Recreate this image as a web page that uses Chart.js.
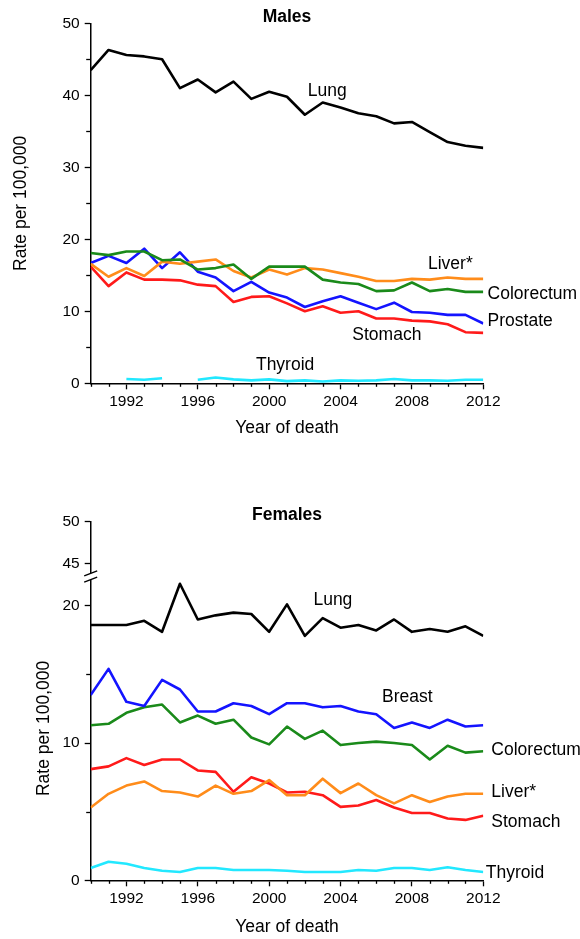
<!DOCTYPE html>
<html><head><meta charset="utf-8">
<script src="https://cdn.jsdelivr.net/npm/chart.js@4.4.1/dist/chart.umd.min.js"></script>
<style>
html,body{margin:0;padding:0;background:#fff;}
#wrap{position:relative;width:580px;height:939px;overflow:hidden;}
.box{position:absolute;left:0;width:580px;}
</style></head><body>
<div id="wrap">
<div class="box" style="top:0;height:460px"><canvas id="cm" width="580" height="460"></canvas></div>
<div class="box" style="top:460px;height:479px"><canvas id="cf" width="580" height="479"></canvas></div>
</div>
<script>
// ---------- data ----------
const years = [1990,1991,1992,1993,1994,1995,1996,1997,1998,1999,2000,2001,2002,2003,2004,2005,2006,2007,2008,2009,2010,2011,2012];
const xTickLabels = [1992,1996,2000,2004,2008,2012];

// Males
const maleLung       = [43.5,46.3,45.6,45.4,45.0,41.0,42.2,40.4,41.9,39.5,40.5,39.8,37.3,39.0,38.3,37.5,37.1,36.1,36.3,34.9,33.5,33.0,32.7];
const maleColorectum = [18.1,17.8,18.3,18.3,17.1,17.2,15.8,16.0,16.5,14.5,16.2,16.2,16.2,14.4,14.0,13.8,12.8,12.9,14.0,12.8,13.1,12.7,12.7];
const maleProstate   = [16.7,17.7,16.7,18.7,16.0,18.2,15.5,14.7,12.8,14.1,12.6,11.9,10.6,11.4,12.1,11.2,10.3,11.2,9.9,9.8,9.5,9.5,8.3];
const maleLiver      = [16.6,14.8,16.0,14.9,16.9,16.6,16.9,17.2,15.6,14.7,15.8,15.1,16.0,15.8,15.3,14.8,14.2,14.2,14.5,14.4,14.7,14.5,14.5];
const maleStomach    = [16.2,13.5,15.4,14.4,14.4,14.3,13.7,13.5,11.3,12.0,12.1,11.1,10.0,10.7,9.8,10.0,9.0,9.0,8.7,8.6,8.2,7.1,7.0];
const maleThyroid    = [null,null,0.6,0.5,0.7,null,0.5,0.8,0.55,0.4,0.55,0.3,0.4,0.25,0.4,0.35,0.4,0.6,0.4,0.4,0.35,0.5,0.5];
const maleYTicks  = [0,5,10,15,20,25,30,35,40,45,50];
const maleYLabels = [0,10,20,30,40,50];

// Females
const femLung       = [18.6,18.6,18.6,18.9,18.1,21.6,19.0,19.3,19.5,19.4,18.1,20.1,17.8,19.1,18.4,18.6,18.2,19.0,18.1,18.3,18.1,18.5,17.8];
const femBreast     = [13.5,15.4,13.0,12.7,14.6,13.9,12.3,12.3,12.9,12.7,12.1,12.9,12.9,12.6,12.7,12.3,12.1,11.1,11.5,11.1,11.7,11.2,11.3];
const femColorectum = [11.3,11.4,12.2,12.6,12.8,11.5,12.0,11.4,11.7,10.4,9.9,11.2,10.3,10.9,9.85,10.0,10.1,10.0,9.85,8.8,9.8,9.3,9.4];
const femLiver      = [5.3,6.3,6.9,7.2,6.5,6.4,6.1,6.9,6.3,6.5,7.3,6.2,6.2,7.4,6.35,7.05,6.2,5.6,6.2,5.7,6.1,6.3,6.3];
const femStomach    = [8.1,8.3,8.9,8.4,8.8,8.8,8.0,7.9,6.45,7.5,7.05,6.4,6.45,6.2,5.35,5.45,5.85,5.3,4.9,4.9,4.5,4.4,4.7];
const femThyroid    = [0.9,1.35,1.2,0.9,0.7,0.6,0.9,0.9,0.75,0.75,0.75,0.7,0.6,0.6,0.6,0.75,0.7,0.9,0.9,0.75,0.95,0.75,0.6];
const femYTicksLow   = [0,5,10,15,20];
const femYLabelsLow  = [0,10,20];
const femYTicksHigh  = [45,50];

// ---------- styling ----------
const FONT = "'Liberation Sans', Arial, Helvetica, sans-serif";
const C = {black:'#000000', blue:'#1414ff', green:'#1a8a1a', red:'#ff1a1a', orange:'#ff8c1a', cyan:'#22e8ff'};
Chart.defaults.font.family = FONT;
Chart.defaults.color = '#000';

function series(vals, color, label){
  return {label: label, data: years.map((y,i)=>({x:y, y:vals[i]})), borderColor: color, backgroundColor: color,
          borderWidth: 2.6, pointRadius: 0, tension: 0, fill: false, spanGaps: false,
          borderJoinStyle: 'round', yAxisID: 'y'};
}

// major ticks drawn by Chart.js; unlabeled (minor) ticks are hidden there and drawn shorter by a plugin
function tickGrid(labeledFn){
  return {display:true, drawOnChartArea:false, drawTicks:true, tickLength:6, tickWidth:1.3,
          tickColor: ctx => (ctx.tick && labeledFn(ctx.tick.value)) ? '#000' : 'rgba(0,0,0,0)'};
}
const minorTickPlugin = {id:'minorTicks', afterDraw(chart){
  const ctx = chart.ctx;
  ctx.save(); ctx.strokeStyle = '#000'; ctx.lineWidth = 1.3;
  Object.values(chart.scales).forEach(s => {
    const minors = s.options.minorValues || [];
    minors.forEach(v => {
      const p = Math.round(s.getPixelForValue(v)) + 0.5;
      ctx.beginPath();
      if (s.isHorizontal()) { ctx.moveTo(p, s.top); ctx.lineTo(p, s.top + 3.5); }
      else { ctx.moveTo(s.right, p); ctx.lineTo(s.right - 4.5, p); }
      ctx.stroke();
    });
  });
  ctx.restore();
}};

function xScale(height, titlePadBottom){
  return {
    type: 'linear', min: 1990, max: 2012,
    minorValues: years.filter(v => !xTickLabels.includes(v)),
    afterBuildTicks: s => { s.ticks = years.map(v => ({value: v})); },
    afterFit: s => { s.height = height; },
    ticks: {autoSkip:false, maxRotation:0, padding:3, color:'#000', font:{size:15.5},
            callback: v => xTickLabels.includes(v) ? String(v) : ''},
    grid: tickGrid(v => xTickLabels.includes(v)),
    border: {display:true, color:'#000', width:1.5},
    title: {display:true, text:'Year of death', color:'#000', font:{size:17.5}, padding:{top:0, bottom:titlePadBottom}}
  };
}

function labelPlugin(items){
  return {id:'seriesLabels', afterDatasetsDraw(chart){
    const ctx = chart.ctx, xs = chart.scales.x;
    ctx.save();
    ctx.font = '17.5px ' + FONT;
    ctx.fillStyle = '#000';
    ctx.textAlign = 'left';
    ctx.textBaseline = 'middle';
    items.forEach(it => {
      const ys = chart.scales[it.axis || 'y'];
      ctx.fillText(it.text, xs.getPixelForValue(it.x), ys.getPixelForValue(it.y));
    });
    ctx.restore();
  }};
}

// ---------- Males ----------
new Chart(document.getElementById('cm'), {
  type: 'line',
  data: {datasets: [
    series(maleLung, C.black, 'Lung'),
    series(maleColorectum, C.green, 'Colorectum'),
    series(maleLiver, C.orange, 'Liver*'),
    series(maleProstate, C.blue, 'Prostate'),
    series(maleStomach, C.red, 'Stomach'),
    series(maleThyroid, C.cyan, 'Thyroid')
  ]},
  options: {
    responsive: false, animation: false, devicePixelRatio: 1,
    layout: {padding: {left: 6, right: 96.7, top: 0, bottom: 17.5}},
    plugins: {
      legend: {display:false}, tooltip: {enabled:false},
      title: {display:true, fullSize:false, text:'Males', color:'#000', font:{size:17.5, weight:'bold'}, padding:{top:6.5, bottom:-4.2}}
    },
    scales: {
      x: xScale(59.2, 4),
      y: {
        type:'linear', position:'left', min:0, max:50,
        minorValues: maleYTicks.filter(v => !maleYLabels.includes(v)),
        afterBuildTicks: s => { s.ticks = maleYTicks.map(v => ({value:v})); },
        afterFit: s => { s.width = 84.7; },
        ticks: {autoSkip:false, padding:5, color:'#000', font:{size:15.5},
                callback: v => maleYLabels.includes(v) ? String(v) : ''},
        grid: tickGrid(v => maleYLabels.includes(v)),
        border: {display:true, color:'#000', width:1.5},
        title: {display:true, text:'Rate per 100,000', color:'#000', font:{size:17.5}, padding:{top:5, bottom:0}}
      }
    }
  },
  plugins: [labelPlugin([
    {text:'Lung', x:2002.16, y:40.6},
    {text:'Liver*', x:2008.9, y:16.5},
    {text:'Colorectum', x:2012.24, y:12.4},
    {text:'Prostate', x:2012.24, y:8.65},
    {text:'Stomach', x:2004.66, y:6.7},
    {text:'Thyroid', x:1999.26, y:2.47}
  ]), minorTickPlugin]
});

// ---------- Females ----------
const breakPlugin = {id:'axisBreak', afterDraw(chart){
  const ctx = chart.ctx, yt = chart.scales.yTop;
  const bx = chart.chartArea.left, yb = yt.bottom;
  ctx.save();
  ctx.fillStyle = '#fff';
  ctx.fillRect(bx - 3, yb - 3.2, 6, 6.4);
  ctx.strokeStyle = '#000'; ctx.lineWidth = 1.4;
  [yb - 3.2, yb + 3.2].forEach(yy => {
    ctx.beginPath(); ctx.moveTo(bx - 6.5, yy + 2.5); ctx.lineTo(bx + 6.5, yy - 2.5); ctx.stroke();
  });
  ctx.restore();
}};

new Chart(document.getElementById('cf'), {
  type: 'line',
  data: {datasets: [
    series(femLung, C.black, 'Lung'),
    series(femBreast, C.blue, 'Breast'),
    series(femColorectum, C.green, 'Colorectum'),
    series(femLiver, C.orange, 'Liver*'),
    series(femStomach, C.red, 'Stomach'),
    series(femThyroid, C.cyan, 'Thyroid')
  ]},
  options: {
    responsive: false, animation: false, devicePixelRatio: 1,
    layout: {padding: {left: 28.8, right: 96.7, top: 0, bottom: 1.8}},
    plugins: {
      legend: {display:false}, tooltip: {enabled:false},
      title: {display:true, fullSize:false, text:'Females', color:'#000', font:{size:17.5, weight:'bold'}, padding:{top:44.5, bottom:-3.8}}
    },
    scales: {
      x: xScale(56.9, 0),
      y: {
        type:'linear', position:'left', stack:'fem', stackWeight:303.8, weight:0,
        min:0, max:22.13,
        minorValues: femYTicksLow.filter(v => !femYLabelsLow.includes(v)),
        afterBuildTicks: s => { s.ticks = femYTicksLow.map(v => ({value:v})); },
        afterFit: s => { s.width = 61.9; },
        ticks: {autoSkip:false, padding:5, color:'#000', font:{size:15.5},
                callback: v => femYLabelsLow.includes(v) ? String(v) : ''},
        grid: tickGrid(v => femYLabelsLow.includes(v)),
        border: {display:true, color:'#000', width:1.5},
        title: {display:true, text:'Rate per 100,000', color:'#000', font:{size:17.5}, padding:{top:5, bottom:0}}
      },
      yTop: {
        type:'linear', position:'left', stack:'fem', stackWeight:54.8, weight:1,
        min:43.41, max:50,
        afterBuildTicks: s => { s.ticks = femYTicksHigh.map(v => ({value:v})); },
        afterFit: s => { s.width = 61.9; },
        ticks: {autoSkip:false, padding:5, color:'#000', font:{size:15.5}, callback: v => String(v)},
        grid: tickGrid(v => femYTicksHigh.includes(v)),
        border: {display:true, color:'#000', width:1.5}
      }
    }
  },
  plugins: [labelPlugin([
    {text:'Lung', x:2002.48, y:20.4},
    {text:'Breast', x:2006.33, y:13.33},
    {text:'Colorectum', x:2012.45, y:9.49},
    {text:'Liver*', x:2012.45, y:6.45},
    {text:'Stomach', x:2012.45, y:4.27},
    {text:'Thyroid', x:2012.14, y:0.55}
  ]), breakPlugin, minorTickPlugin]
});
</script>
</body></html>
